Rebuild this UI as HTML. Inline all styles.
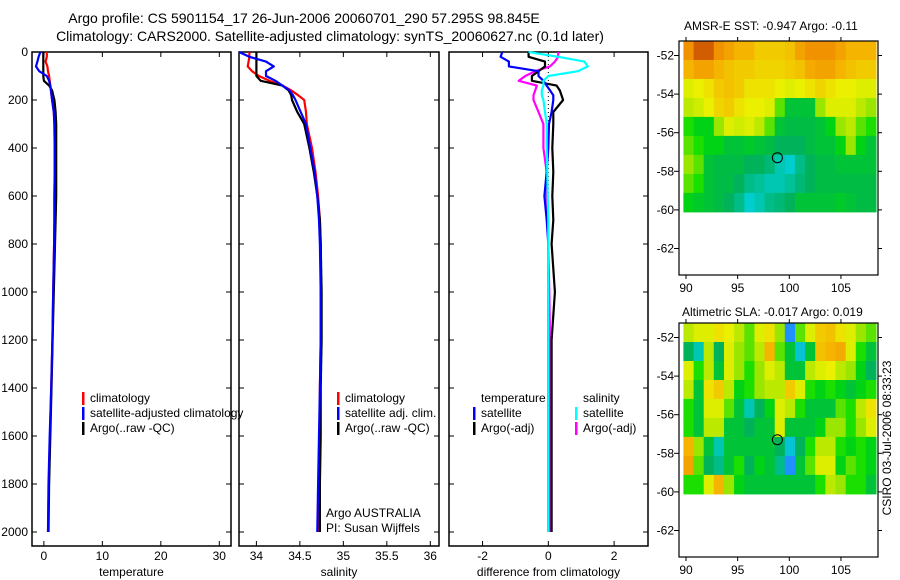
<!DOCTYPE html>
<html><head><meta charset="utf-8"><style>
html,body{margin:0;padding:0;background:#fff;}
svg{display:block;font-family:"Liberation Sans",sans-serif;}
</style></head><body>
<svg id="c" width="900" height="580" viewBox="0 0 900 580" xmlns="http://www.w3.org/2000/svg">
<text x="304" y="23" text-anchor="middle" font-size="14">Argo profile: CS 5901154_17 26-Jun-2006 20060701_290 57.295S 98.845E</text>
<text x="330" y="41" text-anchor="middle" font-size="14">Climatology: CARS2000. Satellite-adjusted climatology: synTS_20060627.nc (0.1d later)</text>
<text x="684" y="30" font-size="12">AMSR-E SST: -0.947 Argo: -0.11</text>
<text x="682" y="316" font-size="12">Altimetric SLA: -0.017 Argo: 0.019</text>
<text transform="translate(891,438) rotate(-90)" text-anchor="middle" font-size="12">CSIRO 03-Jul-2006 08:33:23</text>
<g id="plots"></g>
</svg>
<script>
// ---- profile data ----
const depths = [0,20,40,60,80,100,120,140,160,180,200,250,300,400,500,600,700,800,1000,1200,1400,1600,1800,2000];
const tempClim = [0.5,0.5,0.3,0.6,0.7,0.9,1.0,1.1,1.2,1.3,1.4,1.7,1.8,1.85,1.85,1.8,1.8,1.75,1.6,1.45,1.25,1.05,0.85,0.7];
const tempSat  = [-0.6,-0.9,-1.1,-1.35,-0.8,0.5,0.9,1.1,1.2,1.3,1.4,1.7,1.8,1.85,1.85,1.8,1.8,1.75,1.6,1.45,1.25,1.0,0.8,0.7];
const tempArgo = [-0.1,-0.1,-0.1,-0.1,-0.1,-0.1,0.0,0.9,1.4,1.6,1.8,2.0,2.1,2.1,2.1,2.1,2.0,1.9,1.7,1.5,1.3,1.1,0.9,0.8];
const salClim = [33.92,33.92,33.91,33.9,33.95,34.03,34.15,34.3,34.4,34.48,34.55,34.57,34.58,34.64,34.68,34.71,34.73,34.74,34.74,34.74,34.73,34.73,34.72,34.72];
const salSat  = [33.8,33.92,34.11,34.2,34.11,34.11,34.22,34.3,34.38,34.42,34.45,34.51,34.57,34.62,34.67,34.7,34.72,34.73,34.74,34.74,34.73,34.72,34.71,34.7];
const salArgo = [34.0,34.0,34.0,34.0,34.0,34.0,34.05,34.3,34.37,34.4,34.41,34.47,34.55,34.61,34.66,34.7,34.73,34.74,34.75,34.75,34.74,34.74,34.73,34.73];
const dTempSat  = [-1.4,-1.45,-1.2,-1.2,-0.3,-0.3,-0.15,-0.05,0.05,0.15,0.15,0.1,0.02,0,-0.05,-0.12,-0.05,0,0,0,0,0,0,0];
const dTempArgo = [-0.6,-0.6,-0.1,-0.1,-0.3,-0.5,-0.5,0.25,0.35,0.4,0.45,0.15,0.15,0.12,0.15,0.12,0.15,0.1,0.2,0.1,0.1,0.1,0.1,0.1];
const dSalSat   = [-0.6,0.3,1.1,1.2,0.9,0.0,-0.15,-0.15,-0.2,-0.2,-0.15,-0.1,-0.05,-0.05,-0.03,-0.02,0,0,0,0,0,0,0,0];
const dSalArgo  = [0.3,0.3,0.2,0.05,-0.4,-0.7,-0.9,-0.35,-0.4,-0.45,-0.45,-0.3,-0.15,-0.15,-0.05,-0.05,0,0,0.03,0.05,0.05,0.05,0.05,0.05];
const depthTicks = [0,200,400,600,800,1000,1200,1400,1600,1800,2000];
const tempTicks = [0,10,20,30];
const salTicks = ["34","34.5","35","35.5","36"];
const diffTicks = [-2,0,2];
// ---- map data (0..1 colour index), rows north->south ----
const sstGrid = [
[.85,.95,.95,.85,.8,.75,.75,.7,.7,.7,.72,.8,.85,.85,.85,.8,.75,.75,.75],
[.75,.8,.8,.75,.72,.7,.7,.68,.68,.68,.7,.72,.78,.8,.8,.75,.72,.7,.7],
[.6,.62,.65,.7,.72,.7,.65,.65,.65,.62,.6,.62,.65,.68,.65,.62,.62,.6,.6],
[.55,.58,.62,.68,.7,.65,.62,.62,.6,.45,.3,.3,.3,.5,.6,.6,.6,.55,.5],
[.4,.35,.35,.5,.6,.58,.6,.55,.45,.3,.28,.28,.28,.3,.35,.5,.55,.45,.4],
[.45,.4,.35,.35,.3,.3,.32,.3,.28,.25,.25,.25,.28,.3,.3,.35,.5,.35,.3],
[.5,.45,.3,.28,.28,.28,.25,.25,.22,.15,.12,.2,.25,.28,.28,.3,.3,.3,.3],
[.45,.4,.3,.28,.28,.25,.2,.18,.15,.15,.18,.22,.25,.28,.28,.28,.28,.28,.28],
[.35,.32,.3,.28,.25,.2,.12,.15,.2,.22,.25,.3,.3,.3,.3,.32,.3,.28,.28]];
const slaGrid = [
[.55,.6,.6,.65,.62,.55,.45,.6,.65,.5,.0,.45,.6,.7,.72,.65,.6,.5,.45],
[.25,.15,.55,.25,.6,.5,.45,.55,.75,.45,.3,.1,.3,.72,.75,.78,.6,.4,.3],
[.6,.4,.55,.3,.6,.5,.4,.5,.6,.55,.3,.3,.55,.6,.62,.55,.5,.35,.25],
[.55,.3,.65,.7,.55,.35,.4,.5,.55,.55,.7,.6,.4,.35,.4,.35,.3,.35,.4],
[.4,.3,.6,.6,.45,.3,.15,.25,.35,.6,.55,.4,.3,.3,.3,.45,.4,.55,.65],
[.4,.3,.55,.55,.3,.3,.25,.3,.3,.6,.3,.3,.3,.35,.5,.5,.4,.5,.6],
[.75,.5,.3,.15,.3,.3,.3,.3,.3,.25,.1,.25,.4,.55,.55,.4,.35,.4,.35],
[.8,.45,.25,.2,.3,.4,.25,.35,.3,.2,0,.3,.45,.6,.6,.35,.45,.4,.35],
[.4,.4,.6,.75,.5,.35,.3,.3,.3,.3,.3,.3,.3,.4,.55,.5,.4,.4,.3]];
const latTicks = [-52,-54,-56,-58,-60,-62];
const lonTicks = [90,95,100,105];
const argoLon = 98.845, argoLat = -57.295;

const NS="http://www.w3.org/2000/svg";
const root=document.getElementById('plots');
function mk(tag,attrs,parent){const e=document.createElementNS(NS,tag);for(const k in attrs)e.setAttribute(k,attrs[k]);(parent||root).appendChild(e);return e;}
function txt(s,x,y,anchor,size,parent){const t=mk('text',{x:x,y:y,'text-anchor':anchor,'font-size':size},parent);t.textContent=s;return t;}

const yD = d => 52 + d*0.24;
const panels = [
 {name:'temperature',x0:32,x1:231,v0:-2.03,v1:32.0,ticks:tempTicks,label:'temperature'},
 {name:'salinity',x0:239,x1:439,v0:33.8,v1:36.1,ticks:salTicks,label:'salinity'},
 {name:'difference',x0:449,x1:648,v0:-3.02,v1:3.03,ticks:diffTicks,label:'difference from climatology'}];
panels.forEach(p=>{p.sx=v=>p.x0+(v-p.v0)/(p.v1-p.v0)*(p.x1-p.x0);});

panels.forEach((p,i)=>{
  const g=mk('g',{});
  
  
  const r=mk('rect',{x:p.x0,y:52,width:p.x1-p.x0,height:494,fill:'none',stroke:'#000','stroke-width':1.5},g);
  
  
  p.ticks.forEach(t=>{
    const x=p.sx(+t);
    mk('line',{x1:x,y1:52,x2:x,y2:57,stroke:'#000'},g);
    mk('line',{x1:x,y1:546,x2:x,y2:541,stroke:'#000'},g);
    const tl=txt(String(t),x,560,'middle',12,g);
    
    
  });
  depthTicks.forEach(d=>{
    mk('line',{x1:p.x0,y1:yD(d),x2:p.x0+5,y2:yD(d),stroke:'#000'},g);
    mk('line',{x1:p.x1,y1:yD(d),x2:p.x1-5,y2:yD(d),stroke:'#000'},g);
    if(i===0){const dl=txt(String(d),28,yD(d)+4,'end',12,g);
      
      }
  });
  const al=txt(p.label,(p.x0+p.x1)/2,576,'middle',12,g);
  
  
});
const zl=mk('line',{x1:panels[2].sx(0),y1:yD(0),x2:panels[2].sx(0),y2:yD(2000),stroke:'#000','stroke-dasharray':'1,3'});



function profile(p,vals,color,name){
  const pts=vals.map((v,k)=>p.sx(v).toFixed(1)+','+yD(depths[k]).toFixed(1)).join(' ');
  const l=mk('polyline',{points:pts,fill:'none',stroke:color,'stroke-width':2.2,'stroke-linejoin':'round'});
  
  
}
profile(panels[0],tempClim,'#f00','temp-climatology-line');
profile(panels[0],tempArgo,'#000','temp-argo-line');
profile(panels[0],tempSat,'#00f','temp-satellite-line');
profile(panels[1],salClim,'#f00','sal-climatology-line');
profile(panels[1],salArgo,'#000','sal-argo-line');
profile(panels[1],salSat,'#00f','sal-satellite-line');
profile(panels[2],dSalArgo,'#f0f','diff-sal-argo-line');
profile(panels[2],dTempArgo,'#000','diff-temp-argo-line');
profile(panels[2],dTempSat,'#00f','diff-temp-satellite-line');
profile(panels[2],dSalSat,'#0ff','diff-sal-satellite-line');

function legend(x,y,color,label){
  const g=mk('g',{});
  
  
  if(color) mk('rect',{x:x,y:y-10,width:2.5,height:13,fill:color},g);
  txt(label,x+8,y,'start',12,g);
}
legend(82,402,'#f00','climatology');
legend(82,417,'#00f','satellite-adjusted climatology');
legend(82,432,'#000','Argo(..raw -QC)');
legend(337,402,'#f00','climatology');
legend(337,417,'#00f','satellite adj. clim.');
legend(337,432,'#000','Argo(..raw -QC)');
legend(473,402,null,'temperature');
legend(473,417,'#00f','satellite');
legend(473,432,'#000','Argo(-adj)');
legend(575,402,null,'salinity');
legend(575,417,'#0ff','satellite');
legend(575,432,'#f0f','Argo(-adj)');
const a1=txt('Argo AUSTRALIA',326,517,'start',12);


const a2=txt('PI: Susan Wijffels',326,532,'start',12);



// ---- maps ----
const stops=[[0,[30,144,255]],[.12,[0,205,205]],[.25,[0,178,90]],[.38,[0,221,0]],[.5,[154,230,0]],[.62,[234,240,0]],[.75,[245,180,0]],[.87,[240,140,0]],[1,[192,64,0]]];
function col(v){v=Math.max(0,Math.min(1,v));for(let i=1;i<stops.length;i++){if(v<=stops[i][0]){const a=stops[i-1],b=stops[i],t=(v-a[0])/(b[0]-a[0]);return 'rgb('+a[1].map((c,j)=>Math.round(c+(b[1][j]-c)*t)).join(',')+')';}}return 'rgb(192,64,0)';}
function map(top,grid,name){
  const g=mk('g',{});
  
  
  const bx0=679,bx1=878,by0=top,by1=top+234;
  const sx=lon=>686+(lon-90)*10.33;
  const sy=lat=>top+14.5+(-52-lat)*19.3;
  const lonW=89.75,lonE=108.4,latN=-51.25,latS=-60.1;
  const nr=grid.length,nc=grid[0].length;
  const dl=(lonE-lonW)/nc,dt=(latN-latS)/nr;
  grid.forEach((row,r)=>row.forEach((v,c)=>{
    const x=sx(lonW+c*dl),y=sy(latN-r*dt);
    const cell=mk('rect',{x:x.toFixed(1),y:y.toFixed(1),width:(sx(lonW+(c+1)*dl)-x+0.5).toFixed(1),height:(sy(latN-(r+1)*dt)-y+0.5).toFixed(1),fill:col(v)},g);
    
    
  }));
  mk('rect',{x:bx0,y:by0,width:bx1-bx0,height:by1-by0,fill:'none',stroke:'#000','stroke-width':1.2},g);
  latTicks.forEach(l=>{const y=sy(l);
    mk('line',{x1:bx0-5,y1:y,x2:bx0,y2:y,stroke:'#000'},g);
    mk('line',{x1:bx1,y1:y,x2:bx1+4,y2:y,stroke:'#000'},g);
    const t=txt(String(l),674,y+4,'end',12,g);
    
    });
  lonTicks.forEach(l=>{const x=sx(l);
    mk('line',{x1:x,y1:by0-4,x2:x,y2:by0,stroke:'#000'},g);
    mk('line',{x1:x,y1:by1,x2:x,y2:by1+4,stroke:'#000'},g);
    const t=txt(String(l),x,by1+17,'middle',12,g);
    
    });
  const m=mk('circle',{cx:sx(argoLon),cy:sy(argoLat),r:5,fill:'none',stroke:'#000','stroke-width':1},g);
  
  
}
map(41,sstGrid,'sst-map');
map(323,slaGrid,'sla-map');
</script>
</body></html>
